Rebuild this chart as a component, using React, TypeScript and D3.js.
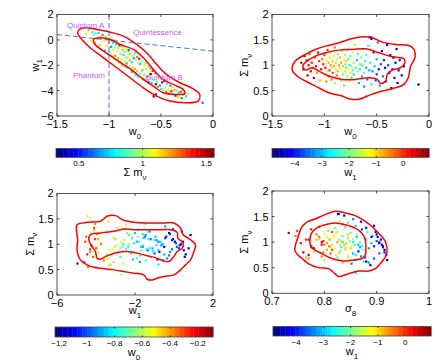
import React, { useRef, useEffect } from "react";
import * as d3 from "d3";

// chain samples: [w0, w1, sum m_nu, sigma8]
const chainSamples = [
  [-1.22, 0.45, 1.05, 0.77], [-1.2, 0.75, 0.92, 0.775], [-1.19, 0.85, 1.18, 0.732], [-1.17, -0.05, 1.1, 0.79],
  [-1.16, 0.6, 0.8, 0.76], [-1.15, 0.35, 1.0, 0.795], [-1.14, -0.25, 1.22, 0.748], [-1.13, 0.5, 0.88, 0.78],
  [-1.12, 0.05, 1.05, 0.765], [-1.11, -0.5, 0.95, 0.8], [-1.1, 0.55, 0.75, 0.77], [-1.09, -0.4, 1.15, 0.785],
  [-1.08, 0.3, 0.98, 0.755], [-1.07, -0.75, 0.85, 0.805], [-1.06, 0.4, 1.25, 0.775], [-1.05, -0.1, 1.08, 0.79],
  [-1.04, -0.85, 0.7, 0.765], [-1.03, 0.25, 0.92, 0.81], [-1.02, -0.45, 1.12, 0.745], [-1.01, 0.1, 1.02, 0.798],
  [-1.0, -1.0, 0.82, 0.78], [-1.0, -0.2, 1.2, 0.815], [-0.99, 0.15, 0.95, 0.795], [-0.98, -1.2, 1.1, 0.805],
  [-0.98, -0.55, 0.68, 0.77], [-0.97, -0.05, 1.3, 0.79], [-0.97, -1.35, 0.88, 0.82], [-0.96, -0.8, 1.05, 0.785],
  [-0.96, -0.25, 0.78, 0.812], [-0.95, -1.5, 1.15, 0.8], [-0.95, -0.1, 0.9, 0.775], [-0.94, -0.6, 1.0, 0.825],
  [-0.94, -1.25, 1.25, 0.808], [-0.93, -0.35, 0.72, 0.795], [-0.93, -1.6, 0.95, 0.83], [-0.92, -0.9, 1.08, 0.79],
  [-0.92, -0.2, 0.85, 0.815], [-0.91, -1.45, 1.18, 0.822], [-0.91, -0.65, 0.98, 0.805], [-0.9, -1.75, 0.65, 0.8],
  [-0.9, -0.45, 1.35, 0.835], [-0.89, -1.1, 0.92, 0.812], [-0.89, -1.9, 1.05, 0.828], [-0.88, -0.5, 0.8, 0.798],
  [-0.88, -1.55, 1.12, 0.818], [-0.87, -0.8, 0.88, 0.84], [-0.87, -2.0, 1.22, 0.808], [-0.86, -1.2, 0.75, 0.822],
  [-0.86, -0.6, 1.0, 0.835], [-0.85, -1.7, 0.95, 0.815], [-0.85, -0.95, 1.15, 0.845], [-0.84, -2.1, 0.7, 0.825],
  [-0.84, -0.7, 1.05, 0.81], [-0.83, -1.4, 0.9, 0.838], [-0.83, -1.85, 1.28, 0.82], [-0.82, -0.9, 0.98, 0.842],
  [-0.82, -2.2, 0.82, 0.83], [-0.81, -1.3, 1.1, 0.818], [-0.81, -0.8, 0.6, 0.835], [-0.8, -2.05, 1.02, 0.832],
  [-0.8, -1.1, 0.88, 0.85], [-0.8, -1.6, 1.2, 0.825], [-0.79, -2.35, 0.95, 0.838], [-0.79, -1.0, 1.08, 0.845],
  [-0.78, -1.75, 0.78, 0.828], [-0.78, -2.5, 1.3, 0.84], [-0.77, -1.25, 0.92, 0.852], [-0.77, -2.15, 1.12, 0.835],
  [-0.76, -1.45, 0.68, 0.848], [-0.76, -2.6, 1.0, 0.855], [-0.75, -1.05, 0.85, 0.84], [-0.75, -2.3, 1.18, 0.85],
  [-0.74, -1.6, 0.98, 0.842], [-0.74, -2.75, 0.75, 0.86], [-0.73, -1.35, 1.25, 0.838], [-0.73, -2.45, 0.9, 0.832],
  [-0.72, -1.8, 1.05, 0.855], [-0.72, -2.9, 0.82, 0.865], [-0.71, -1.5, 1.4, 0.83], [-0.7, -2.65, 0.95, 0.858],
  [-0.7, -1.9, 0.72, 0.845], [-0.69, -3.0, 1.1, 0.862], [-0.68, -1.7, 0.88, 0.85], [-0.68, -2.4, 1.22, 0.87],
  [-0.67, -3.1, 0.65, 0.858], [-0.66, -2.0, 1.02, 0.848], [-0.66, -2.75, 0.92, 0.872], [-0.65, -1.85, 1.15, 0.862],
  [-0.64, -3.2, 0.78, 0.855], [-0.64, -2.3, 1.0, 0.868], [-0.63, -2.9, 1.32, 0.86], [-0.62, -2.1, 0.85, 0.875],
  [-0.62, -3.35, 0.58, 0.852], [-0.61, -2.55, 1.08, 0.878], [-0.6, -3.05, 0.95, 0.865], [-0.6, -2.25, 1.2, 0.882],
  [-0.6, -2.7, 0.4, 0.86], [-0.59, -3.4, 0.72, 0.87], [-0.58, -2.45, 1.38, 0.845], [-0.57, -3.15, 0.9, 0.868],
  [-0.56, -2.7, 1.05, 0.88], [-0.55, -3.5, 1.55, 0.828], [-0.55, -2.6, 0.62, 0.875], [-0.54, -3.3, 0.88, 0.885],
  [-0.53, -3.7, 1.25, 0.872], [-0.52, -2.95, 0.98, 0.89], [-0.51, -3.6, 0.7, 0.878], [-0.5, -3.1, 1.12, 0.892],
  [-0.5, -3.85, 0.82, 0.865], [-0.49, -3.35, 1.45, 0.855], [-0.48, -3.95, 0.92, 0.895], [-0.47, -3.25, 0.6, 0.885],
  [-0.46, -3.75, 1.02, 0.9], [-0.45, -4.1, 1.28, 0.88], [-0.44, -3.45, 0.78, 0.905], [-0.43, -3.9, 1.1, 0.89],
  [-0.42, -4.2, 0.95, 0.91], [-0.41, -3.6, 0.68, 0.895], [-0.4, -4.05, 1.4, 0.87], [-0.39, -3.75, 1.0, 0.905],
  [-0.38, -4.3, 0.85, 0.915], [-0.37, -3.95, 1.2, 0.898], [-0.36, -4.4, 0.55, 0.888], [-0.35, -4.0, 0.92, 0.912],
  [-0.34, -4.5, 1.15, 0.9], [-0.33, -4.15, 0.75, 0.918], [-0.32, -4.55, 1.05, 0.908], [-0.31, -4.1, 1.32, 0.895],
  [-0.3, -4.6, 0.65, 0.92], [-0.29, -4.3, 0.9, 0.912], [-0.28, -4.05, 1.1, 0.902], [-0.26, -4.45, 0.8, 0.915],
  [-0.24, -4.25, 0.98, 0.905], [-0.57, -4.45, 1.55, 0.826], [-0.1, -4.95, 0.62, 0.88], [-0.55, -4.3, 1.52, 0.838],
];

// 68% / 95% contours, [x, y] in data units
const w0w1Outer = [
  [-1.302, 0.556], [-1.277, 0.871], [-1.213, 0.95], [-1.117, 0.819], [-0.989, 0.609], [-0.862, 0.294],
  [-0.734, -0.362], [-0.638, -1.018], [-0.542, -1.937], [-0.447, -2.724], [-0.319, -3.381], [-0.191, -3.853],
  [-0.128, -4.299], [-0.143, -4.824], [-0.255, -4.955], [-0.415, -4.824], [-0.542, -4.43], [-0.67, -3.774],
  [-0.798, -2.987], [-0.925, -2.199], [-1.053, -1.412], [-1.181, -0.625], [-1.261, 0.031],
];
const w0w1Inner = [
  [-1.149, 0.031], [-1.085, 0.163], [-0.989, 0.031], [-0.894, -0.362], [-0.766, -0.756], [-0.67, -1.412],
  [-0.574, -2.331], [-0.479, -3.118], [-0.383, -3.512], [-0.287, -3.906], [-0.271, -4.247], [-0.351, -4.299],
  [-0.479, -4.168], [-0.574, -3.643], [-0.67, -3.118], [-0.766, -2.462], [-0.862, -1.937], [-0.957, -1.412],
  [-1.053, -0.887], [-1.133, -0.362],
];
const w0MnuOuter = [
  [-1.308, 0.918], [-1.277, 1.082], [-1.181, 1.213], [-1.085, 1.311], [-0.989, 1.377], [-0.862, 1.443],
  [-0.766, 1.508], [-0.638, 1.561], [-0.542, 1.541], [-0.447, 1.456], [-0.319, 1.41], [-0.191, 1.39],
  [-0.143, 1.311], [-0.134, 1.148], [-0.175, 0.984], [-0.198, 0.754], [-0.239, 0.623], [-0.351, 0.538],
  [-0.479, 0.472], [-0.574, 0.407], [-0.67, 0.328], [-0.766, 0.341], [-0.83, 0.393], [-0.957, 0.459],
  [-1.085, 0.59], [-1.181, 0.689], [-1.261, 0.787],
];
const w0MnuInner = [
  [-1.206, 0.984], [-1.165, 1.082], [-1.085, 1.18], [-0.989, 1.246], [-0.862, 1.298], [-0.734, 1.311],
  [-0.606, 1.325], [-0.479, 1.246], [-0.351, 1.167], [-0.239, 1.128], [-0.23, 1.049], [-0.271, 0.951],
  [-0.351, 0.905], [-0.399, 0.82], [-0.415, 0.689], [-0.463, 0.643], [-0.495, 0.721], [-0.574, 0.754],
  [-0.702, 0.721], [-0.83, 0.721], [-0.957, 0.787], [-1.053, 0.885], [-1.117, 0.951], [-1.181, 0.905],
];
const w1MnuOuter = [
  [-5.007, 1.287], [-4.973, 1.386], [-4.459, 1.432], [-3.774, 1.452], [-3.432, 1.551], [-3.003, 1.564],
  [-2.575, 1.472], [-2.062, 1.432], [-1.377, 1.419], [-0.521, 1.419], [-0.007, 1.419], [0.336, 1.32],
  [0.473, 1.188], [0.849, 1.089], [1.106, 0.99], [1.021, 0.858], [0.849, 0.693], [0.592, 0.594],
  [0.336, 0.495], [-0.007, 0.396], [-0.521, 0.363], [-0.863, 0.33], [-1.12, 0.297], [-1.377, 0.31],
  [-1.548, 0.396], [-2.062, 0.429], [-2.575, 0.462], [-3.089, 0.495], [-3.774, 0.528], [-4.116, 0.548],
  [-4.459, 0.594], [-4.801, 0.693], [-4.973, 0.891], [-4.938, 1.089],
];
const w1MnuInner = [
  [-4.373, 1.089], [-4.288, 1.188], [-3.774, 1.221], [-3.089, 1.254], [-2.575, 1.3], [-2.062, 1.287],
  [-1.377, 1.287], [-0.692, 1.287], [-0.178, 1.287], [0.164, 1.234], [0.199, 1.122], [0.473, 1.023],
  [0.421, 0.924], [0.164, 0.858], [-0.007, 0.759], [-0.264, 0.66], [-0.692, 0.693], [-1.034, 0.746],
  [-1.377, 0.772], [-1.89, 0.825], [-2.404, 0.858], [-2.918, 0.838], [-3.432, 0.772], [-3.774, 0.706],
  [-3.945, 0.726], [-4.031, 0.858], [-4.202, 0.957],
];
const s8MnuOuter = [
  [0.7436, 0.845], [0.75, 1.109], [0.7577, 1.307], [0.7692, 1.406], [0.7821, 1.452], [0.8013, 1.538],
  [0.8205, 1.604], [0.8397, 1.571], [0.859, 1.518], [0.8782, 1.406], [0.891, 1.307], [0.9038, 1.175],
  [0.9167, 1.01], [0.9199, 0.812], [0.9167, 0.713], [0.9071, 0.581], [0.8974, 0.482], [0.8846, 0.436],
  [0.8654, 0.436], [0.8462, 0.383], [0.8269, 0.33], [0.8205, 0.383], [0.8077, 0.482], [0.7885, 0.502],
  [0.7692, 0.581], [0.7577, 0.68], [0.75, 0.746],
];
const s8MnuInner = [
  [0.7724, 1.01], [0.7756, 1.175], [0.7853, 1.274], [0.8013, 1.34], [0.8205, 1.373], [0.8397, 1.34],
  [0.859, 1.274], [0.8718, 1.175], [0.8782, 1.043], [0.8795, 0.878], [0.8782, 0.746], [0.8718, 0.68],
  [0.8526, 0.647], [0.8333, 0.634], [0.8141, 0.68], [0.7949, 0.779], [0.7821, 0.845], [0.7744, 0.911],
];

// dividing lines and region names in the w0-w1 plane
const phantomDivide = [[-1.5, 0.42], [0, -0.89]];
const w0Minus1 = [[-1, -6], [-1, 2]];
const regionNames = [
  { name: "Quintom A", w0: -1.404, w1: 0.94 },
  { name: "Quintessence", w0: -0.769, w1: 0.39 },
  { name: "Phantom", w0: -1.346, w1: -3.0 },
  { name: "Quintom B", w0: -0.654, w1: -3.16 },
];

const w0Ticks = [-1.5, -1, -0.5, 0];
const w1Ticks = [-6, -4, -2, 0, 2];
const w1TicksWide = [-6, -2, 2];
const mnuTicks = [0, 0.5, 1, 1.5, 2];
const s8Ticks = [0.7, 0.8, 0.9, 1];
const mnuBarTicks = [0.5, 1, 1.5];
const w1BarTicks = [-4, -3, -2, -1, 0];
const w0BarTicks = [-1.2, -1, -0.8, -0.6, -0.4, -0.2];
const mnuRange = [0.32, 1.56];
const w1Range = [-4.85, 0.95];
const w0Range = [-1.23, -0.09];

const W0 = [["w"], ["0", true]];
const W1 = [["w"], ["1", true]];
const MNU = [["\u03a3 m"], ["\u03bd", true]];
const S8 = [["\u03c3"], ["8", true]];

const panels = [
  { box: [57, 14.5, 213, 116], xd: [-1.5, 0], yd: [-6, 2], xt: w0Ticks, yt: w1Ticks, xi: 0, yi: 1, ci: 2,
    xl: W0, yl: W1, ylx: 38.5, lines: [w0w1Outer, w0w1Inner], guides: true,
    cb: { box: [56, 148.5, 214, 157.3], d: mnuRange, ticks: mnuBarTicks, label: MNU } },
  { box: [272, 14.5, 429, 116], xd: [-1.5, 0], yd: [0, 2], xt: w0Ticks, yt: mnuTicks, xi: 0, yi: 2, ci: 1,
    xl: W0, yl: MNU, ylx: 248, lines: [w0MnuOuter, w0MnuInner],
    cb: { box: [272, 148.5, 429, 157.3], d: w1Range, ticks: w1BarTicks, label: W1 } },
  { box: [57, 193.5, 213, 295], xd: [-6, 2], yd: [0, 2], xt: w1TicksWide, yt: mnuTicks, xi: 1, yi: 2, ci: 0,
    xl: W1, yl: MNU, ylx: 33.5, lines: [w1MnuOuter, w1MnuInner],
    cb: { box: [55, 327, 213, 337], d: w0Range, ticks: w0BarTicks, label: W0 } },
  { box: [272, 191, 429, 293.3], xd: [0.7, 1], yd: [0, 2], xt: s8Ticks, yt: mnuTicks, xi: 3, yi: 2, ci: 1,
    xl: S8, yl: MNU, ylx: 248, lines: [s8MnuOuter, s8MnuInner],
    cb: { box: [273, 326.5, 431, 336], d: w1Range, ticks: w1BarTicks, label: W1 } },
];

const FONT = "'Liberation Sans', Arial, Helvetica, sans-serif";
const NCOL = 64;

function jet(t) {
  const c = (v) => Math.max(0, Math.min(1, v));
  const r = c(Math.min(4 * t - 1.5, -4 * t + 4.5));
  const g = c(Math.min(4 * t - 0.5, -4 * t + 3.5));
  const b = c(Math.min(4 * t + 0.5, -4 * t + 2.5));
  return d3.rgb(r * 255, g * 255, b * 255).formatHex();
}
const jetBin = (t) => jet((Math.min(NCOL - 1, Math.max(0, Math.floor(t * NCOL))) + 0.5) / NCOL);

const fmt = (v) => (v < 0 ? "\u2212" : "") + String(+Math.abs(v).toFixed(2));

function addLabel(g, x, y, parts, size, rotate = false) {
  const txt = g.append("text")
    .attr("text-anchor", "middle")
    .attr("font-size", size)
    .attr("font-family", FONT)
    .attr("fill", "#000");
  if (rotate) txt.attr("transform", `translate(${x},${y}) rotate(-90)`);
  else txt.attr("x", x).attr("y", y);
  parts.forEach(([s, sub]) => {
    const sp = txt.append("tspan").text(s);
    if (sub) sp.attr("font-size", size * 0.72).attr("dy", size * 0.35);
  });
}

function drawPanel(svg, p, k) {
  const [l, t, r, b] = p.box;
  const x = d3.scaleLinear().domain(p.xd).range([l, r]);
  const y = d3.scaleLinear().domain(p.yd).range([b, t]);
  const c = d3.scaleLinear().domain(p.cb.d).range([0, 1]).clamp(true);
  const g = svg.append("g");

  g.append("clipPath").attr("id", "clip" + k)
    .append("rect").attr("x", l).attr("y", t).attr("width", r - l).attr("height", b - t);
  const inner = g.append("g").attr("clip-path", `url(#clip${k})`);

  inner.selectAll("rect.pt").data(chainSamples).join("rect")
    .attr("class", "pt")
    .attr("x", (d) => x(d[p.xi]) - 1.1)
    .attr("y", (d) => y(d[p.yi]) - 1.1)
    .attr("width", 2.2)
    .attr("height", 2.2)
    .attr("fill", (d) => jetBin(c(d[p.ci])));

  const straight = d3.line().x((d) => x(d[0])).y((d) => y(d[1]));
  if (p.guides) {
    [phantomDivide, w0Minus1].forEach((ln) => {
      inner.append("path").attr("d", straight(ln))
        .attr("fill", "none").attr("stroke", "#4f6ff2").attr("stroke-width", 1)
        .attr("stroke-dasharray", "5,3");
    });
  }

  const smooth = d3.line().x((d) => x(d[0])).y((d) => y(d[1])).curve(d3.curveCatmullRomClosed.alpha(0.5));
  p.lines.forEach((ln) => {
    inner.append("path").attr("d", smooth(ln))
      .attr("fill", "none").attr("stroke", "#ff0000").attr("stroke-width", 1.5);
  });

  if (p.guides) {
    g.selectAll("text.reg").data(regionNames).join("text")
      .attr("class", "reg")
      .attr("x", (d) => x(d.w0)).attr("y", (d) => y(d.w1))
      .attr("font-size", 8).attr("font-family", FONT).attr("fill", "#c45cf0")
      .text((d) => d.name);
  }

  // frame and inward ticks
  g.append("rect").attr("x", l).attr("y", t).attr("width", r - l).attr("height", b - t)
    .attr("fill", "none").attr("stroke", "#444").attr("stroke-width", 0.9);
  p.xt.forEach((v) => {
    g.append("line").attr("x1", x(v)).attr("x2", x(v)).attr("y1", b).attr("y2", b - 2.5).attr("stroke", "#444");
    g.append("line").attr("x1", x(v)).attr("x2", x(v)).attr("y1", t).attr("y2", t + 2.5).attr("stroke", "#444");
    g.append("text").attr("x", x(v)).attr("y", b + 11.8).attr("text-anchor", "middle")
      .attr("font-size", 11).attr("font-family", FONT).text(fmt(v));
  });
  p.yt.forEach((v) => {
    g.append("line").attr("x1", l).attr("x2", l + 2.5).attr("y1", y(v)).attr("y2", y(v)).attr("stroke", "#444");
    g.append("line").attr("x1", r).attr("x2", r - 2.5).attr("y1", y(v)).attr("y2", y(v)).attr("stroke", "#444");
    g.append("text").attr("x", l - 3.5).attr("y", y(v)).attr("dy", "0.36em").attr("text-anchor", "end")
      .attr("font-size", 11).attr("font-family", FONT).text(fmt(v));
  });
  addLabel(g, (l + r) / 2, b + 19, p.xl, 11);
  addLabel(g, p.ylx, (t + b) / 2, p.yl, 11, true);

  // colorbar
  const [cl, ct, cr, cbm] = p.cb.box;
  const band = d3.scaleBand().domain(d3.range(NCOL)).range([cl, cr]);
  const cx = d3.scaleLinear().domain(p.cb.d).range([cl, cr]);
  g.selectAll("rect.cb").data(d3.range(NCOL)).join("rect")
    .attr("class", "cb")
    .attr("x", (i) => band(i))
    .attr("y", ct)
    .attr("width", band.bandwidth() + 0.4)
    .attr("height", cbm - ct)
    .attr("fill", (i) => jet((i + 0.5) / NCOL));
  g.append("rect").attr("x", cl).attr("y", ct).attr("width", cr - cl).attr("height", cbm - ct)
    .attr("fill", "none").attr("stroke", "#444").attr("stroke-width", 0.8);
  p.cb.ticks.forEach((v) => {
    g.append("line").attr("x1", cx(v)).attr("x2", cx(v)).attr("y1", ct).attr("y2", ct + 1.5).attr("stroke", "#444");
    g.append("line").attr("x1", cx(v)).attr("x2", cx(v)).attr("y1", cbm).attr("y2", cbm - 1.5).attr("stroke", "#444");
    g.append("text").attr("x", cx(v)).attr("y", cbm + 8.7).attr("text-anchor", "middle")
      .attr("font-size", 8).attr("font-family", FONT).text(fmt(v));
  });
  addLabel(g, (cl + cr) / 2, cbm + 19, p.cb.label, 11);
}

export default function App() {
  const svgRef = useRef(null);

  useEffect(() => {
    const svg = d3.select(svgRef.current);
    svg.selectAll("*").remove();
    panels.forEach((p, k) => drawPanel(svg, p, k));
  }, []);

  return (
    <svg
      ref={svgRef}
      width={435}
      height={364}
      style={{ position: "absolute", left: 0, top: 0, background: "#fff" }}
    />
  );
}
